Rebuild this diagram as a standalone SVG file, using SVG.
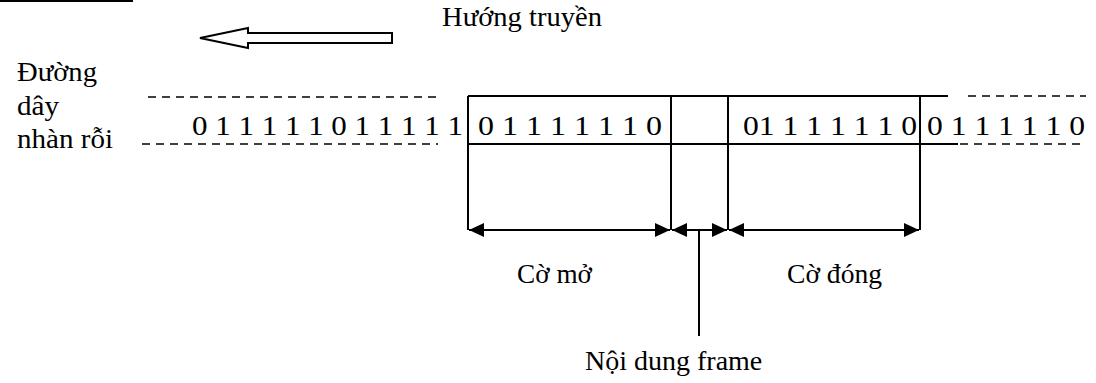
<svg xmlns="http://www.w3.org/2000/svg" width="1096" height="383" viewBox="0 0 1096 383">
<defs>
<style>
.s{stroke:#000;stroke-width:2;fill:none}
.d{stroke:#000;stroke-width:1.6;fill:none;stroke-dasharray:8 6}
.dim{stroke:#000;stroke-width:2;fill:none;marker-start:url(#ah);marker-end:url(#ah)}
</style>
<marker id="ah" viewBox="0 0 15 14" refX="15" refY="7" markerWidth="15" markerHeight="14" markerUnits="userSpaceOnUse" orient="auto-start-reverse">
<path d="M0,0 L15,7 L0,14 z" fill="#000"/>
</marker>
</defs>
<rect width="1096" height="383" fill="#fff"/>
<line class="s" x1="0" y1="1" x2="133" y2="1"/>
<g id="direction">
<polygon class="s" points="200,38 248,28 248,33 392,33 392,43 248,43 248,48"/>
<text x="442" y="26" font-family="Liberation Serif" font-size="28" textLength="160" lengthAdjust="spacingAndGlyphs">Hướng truyền</text>
</g>
<g id="idle-label">
<text x="17" y="81" font-family="Liberation Serif" font-size="28" textLength="80" lengthAdjust="spacingAndGlyphs">Đường</text>
<text x="17" y="115" font-family="Liberation Serif" font-size="28" textLength="42" lengthAdjust="spacingAndGlyphs">dây</text>
<text x="17" y="148" font-family="Liberation Serif" font-size="28" textLength="96" lengthAdjust="spacingAndGlyphs">nhàn rỗi</text>
</g>
<g id="idle-line">
<line class="d" x1="148" y1="97" x2="442" y2="97"/>
<line class="d" x1="142" y1="144" x2="438" y2="144"/>
<text x="192" y="135" font-family="Liberation Serif" font-size="28" textLength="271" lengthAdjust="spacingAndGlyphs">0 1 1 1 1 1 0 1 1 1 1 1</text>
</g>
<g id="frame">
<line class="s" x1="468" y1="96" x2="948" y2="96"/>
<line class="s" x1="468" y1="144" x2="958" y2="144"/>
<line class="s" x1="468" y1="96" x2="468" y2="230"/>
<line class="s" x1="671" y1="96" x2="671" y2="230"/>
<line class="s" x1="728" y1="96" x2="728" y2="230"/>
<line class="s" x1="920" y1="96" x2="920" y2="230"/>
<text x="478" y="135" font-family="Liberation Serif" font-size="28" textLength="184" lengthAdjust="spacingAndGlyphs">0 1 1 1 1 1 1 0</text>
<text x="743" y="135" font-family="Liberation Serif" font-size="28" textLength="174" lengthAdjust="spacingAndGlyphs">01 1 1 1 1 1 0</text>
</g>
<g id="idle-line-right">
<line class="d" x1="968" y1="96" x2="1086" y2="96"/>
<line class="d" x1="960" y1="144" x2="1086" y2="144"/>
<text x="927" y="135" font-family="Liberation Serif" font-size="28" textLength="158" lengthAdjust="spacingAndGlyphs">0 1 1 1 1 1 0</text>
</g>
<g id="connectors">
<line class="dim" x1="469" y1="230" x2="670" y2="230"/>
<line class="dim" x1="672" y1="230" x2="727" y2="230"/>
<line class="dim" x1="729" y1="230" x2="919" y2="230"/>
<line class="s" x1="699" y1="230" x2="699" y2="336"/>
</g>
<g id="open-flag-label"><text x="517" y="283" font-family="Liberation Serif" font-size="28" textLength="75" lengthAdjust="spacingAndGlyphs">Cờ mở</text></g>
<g id="close-flag-label"><text x="787" y="283" font-family="Liberation Serif" font-size="28" textLength="95" lengthAdjust="spacingAndGlyphs">Cờ đóng</text></g>
<g id="content-label"><text x="585" y="370" font-family="Liberation Serif" font-size="28">Nội dung frame</text></g>
</svg>
